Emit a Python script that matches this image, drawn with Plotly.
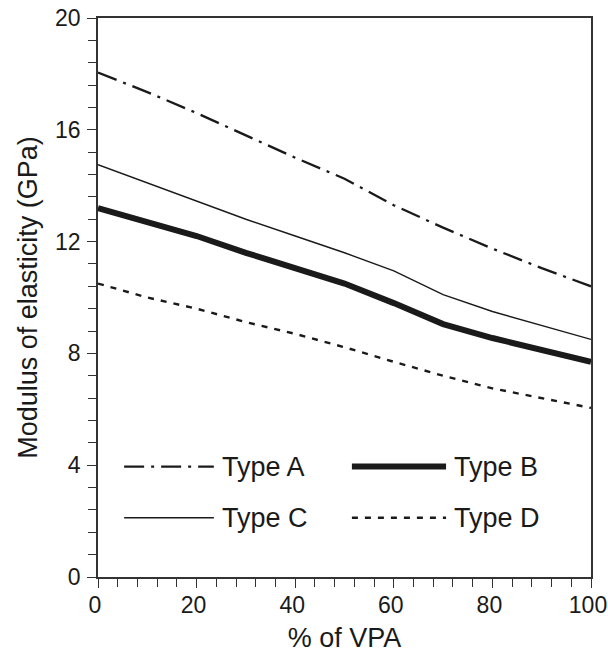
import plotly.graph_objects as go

vpa_pct = [0, 10, 20, 30, 40, 50, 60, 70, 80, 90, 100]
type_a = [18.05, 17.35, 16.6, 15.8, 15.0, 14.25, 13.3, 12.5, 11.75, 11.05, 10.4]
type_b = [13.2, 12.7, 12.2, 11.6, 11.05, 10.5, 9.8, 9.05, 8.55, 8.15, 7.7]
type_c = [14.75, 14.1, 13.45, 12.8, 12.2, 11.6, 10.95, 10.1, 9.5, 9.0, 8.5]
type_d = [10.5, 10.0, 9.6, 9.12, 8.7, 8.22, 7.7, 7.2, 6.75, 6.4, 6.05]
series_names = ["Type A", "Type B", "Type C", "Type D"]

FONT = "Liberation Sans, Arial, Helvetica, sans-serif"
INK = "#1a1a1a"

styles = {
    "Type A": dict(width=2.3, dash="20px,7px,3px,7px"),
    "Type B": dict(width=6, dash="solid"),
    "Type C": dict(width=1.4, dash="solid"),
    "Type D": dict(width=2.4, dash="6px,7px"),
}
values = {"Type A": type_a, "Type B": type_b, "Type C": type_c, "Type D": type_d}

fig = go.Figure()
for name in series_names:
    st = styles[name]
    fig.add_trace(go.Scatter(
        x=vpa_pct, y=values[name], mode="lines", name=name,
        line=dict(color=INK, width=st["width"], dash=st["dash"]),
        showlegend=False, hoverinfo="skip",
    ))

# legend drawn as decorations (2 columns x 2 rows)
legend_pos = {
    "Type A": (5.3, 23.5, 3.95),
    "Type B": (51.5, 70.6, 3.95),
    "Type C": (5.3, 23.5, 2.12),
    "Type D": (51.5, 70.6, 2.12),
}
for name in series_names:
    x0, x1, yy = legend_pos[name]
    st = styles[name]
    fig.add_shape(type="line", xref="x", yref="y", x0=x0, x1=x1, y0=yy, y1=yy,
                  line=dict(color=INK, width=st["width"], dash=st["dash"]))
    fig.add_annotation(x=x1 + 1.2, y=yy, xref="x", yref="y", text=name,
                       showarrow=False, xanchor="left", yanchor="middle",
                       font=dict(family=FONT, size=27, color=INK))

axis_common = dict(
    showline=True, linecolor="#333333", linewidth=1.5, mirror=True,
    showgrid=False, zeroline=False, ticks="outside", ticklen=9,
    tickwidth=1.3, tickcolor="#333333", automargin=False,
    ticklabeloverflow="allow",
    tickfont=dict(family=FONT, size=23, color=INK),
)

fig.update_xaxes(range=[0, 100], tickvals=[0, 20, 40, 60, 80, 100],
                 minor=dict(dtick=4, tick0=0, ticks="outside", ticklen=8,
                            tickwidth=1.3, tickcolor="#333333"),
                 ticklabelstandoff=-2, ticklabelshift=-3,
                 title=dict(text="% of VPA", font=dict(family=FONT, size=27, color=INK),
                            standoff=12),
                 **axis_common)
fig.update_yaxes(range=[0, 20], tickvals=[0, 4, 8, 12, 16, 20],
                 minor=dict(dtick=0.8, tick0=0, ticks="outside", ticklen=8,
                            tickwidth=1.3, tickcolor="#333333"),
                 ticklabelstandoff=2,
                 title=dict(text="Modulus of elasticity (GPa)",
                            font=dict(family=FONT, size=27, color=INK), standoff=10),
                 **axis_common)

fig.update_layout(
    width=608, height=653,
    margin=dict(l=98, r=17, t=18, b=76),
    paper_bgcolor="white", plot_bgcolor="white",
    showlegend=False,
)

# remove the default page margin so the figure fills the window exactly
fig.write_html("out.html",
               config={"displayModeBar": False},
               post_script="document.body.style.margin='0';document.body.style.overflow='hidden';")
